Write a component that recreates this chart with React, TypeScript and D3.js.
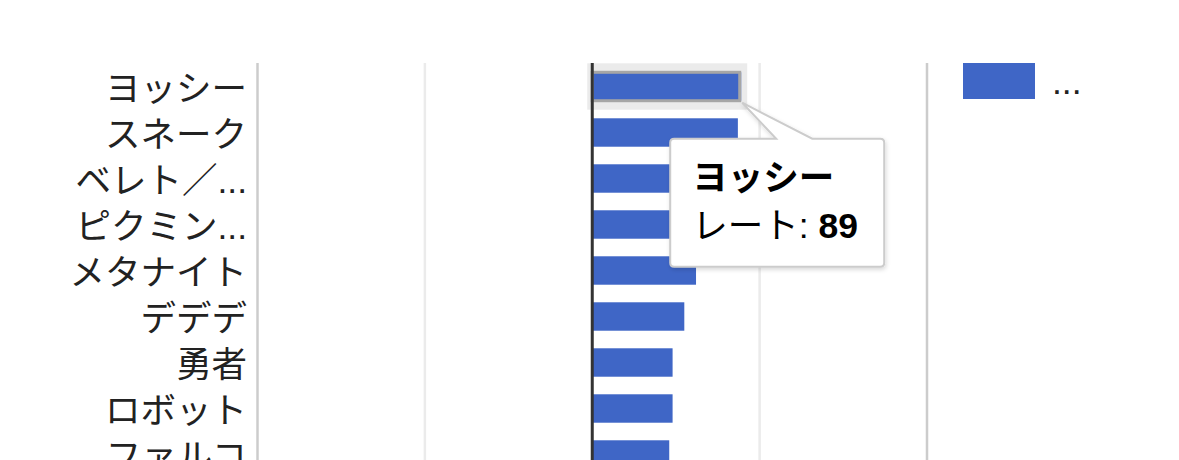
import React from 'react';
import * as d3 from 'd3';

// fighters shown on the vertical axis (full names, truncated for display)
const categories = ['ヨッシー', 'スネーク', 'ベレト／ベレス', 'ピクミン＆オリマー', 'メタナイト', 'デデデ', '勇者', 'ロボット', 'ファルコ'];
const seriesName = 'レート';
const rates = [89, 87, 78, 70, 62, 55, 48, 48, 46];
const gridTicks = [-200, -100, 0, 100, 200];
const hovered = 0;

const W = 1179;
const H = 460;
const FONT = '"Liberation Sans", Arial, "Noto Sans CJK JP", sans-serif';
const FS = 35.5;
const BAR = '#3f66c6';

const truncate = (s: string) => (s.length > 5 ? s.slice(0, 4) + '...' : s);

const App: React.FC = () => {
  const x = d3.scaleLinear().domain([-200, 200]).range([257.5, 927]);
  const y = d3
    .scaleBand<string>()
    .domain(categories)
    .range([63.5, 63.5 + 46 * categories.length])
    .paddingInner(0.382)
    .paddingOuter(0.191);

  const bw = y.bandwidth();

  // hovered bar + tooltip geometry
  const hx0 = x(0);
  const hx1 = x(rates[hovered]);
  const hy0 = y(categories[hovered]) as number;
  const hy1 = hy0 + bw;
  const apexX = hx1 + 1;
  const apexY = hy1 + 2;
  const boxL = apexX - 72;
  const boxT = apexY + 36;
  const boxR = boxL + 214;
  const boxB = boxT + 128;
  const r = 4;
  const tipPath = [
    `M${boxL + r},${boxT}`,
    `L${apexX + 34},${boxT}`,
    `L${apexX},${apexY}`,
    `L${apexX + 70},${boxT}`,
    `L${boxR - r},${boxT}`,
    `Q${boxR},${boxT} ${boxR},${boxT + r}`,
    `L${boxR},${boxB - r}`,
    `Q${boxR},${boxB} ${boxR - r},${boxB}`,
    `L${boxL + r},${boxB}`,
    `Q${boxL},${boxB} ${boxL},${boxB - r}`,
    `L${boxL},${boxT + r}`,
    `Q${boxL},${boxT} ${boxL + r},${boxT}`,
    'Z',
  ].join(' ');

  return (
    <div style={{ position: 'absolute', left: 0, top: 0 }}>
      <svg width={W} height={H} style={{ display: 'block', fontFamily: FONT }}>
        <defs>
          <filter id="tipShadow" x="-10%" y="-10%" width="130%" height="130%">
            <feDropShadow dx="1" dy="2" stdDeviation="2" floodColor="#000" floodOpacity="0.15" />
          </filter>
        </defs>
        <rect width={W} height={H} fill="#fff" />

        {/* gridlines */}
        {gridTicks.map((t, i) => (
          <line
            key={t}
            x1={x(t)}
            x2={x(t)}
            y1={63}
            y2={H + 40}
            stroke={i === 0 || i === gridTicks.length - 1 ? '#cccccc' : '#ebebeb'}
            strokeWidth={2.5}
          />
        ))}

        {/* hover halo */}
        <rect x={hx0 - 5} y={hy0 - 9} width={hx1 - hx0 + 11} height={bw + 18} fill="#000" fillOpacity={0.08} />

        {/* bars */}
        {categories.map((c, i) => (
          <rect key={c} x={x(0)} y={y(c)} width={x(rates[i]) - x(0)} height={bw} fill={BAR} />
        ))}
        <rect x={hx0} y={hy0} width={hx1 - hx0 - 1.5} height={bw} fill="none" stroke="#a6a6a6" strokeWidth={3} />

        {/* baseline */}
        <line x1={x(0)} x2={x(0)} y1={63} y2={H + 40} stroke="#333333" strokeWidth={3} />

        {/* category labels */}
        {categories.map((c) => (
          <text
            key={c}
            x={247}
            y={(y(c) as number) + bw / 2 + 14}
            textAnchor="end"
            fontSize={FS}
            fill="#222222"
          >
            {truncate(c)}
          </text>
        ))}

        {/* legend */}
        <rect x={963} y={63} width={72} height={36} fill={BAR} />
        <text x={1052} y={94} fontSize={FS} fill="#222222">
          ...
        </text>

        {/* tooltip */}
        <path d={tipPath} fill="#fff" stroke="#cccccc" strokeWidth={2} filter="url(#tipShadow)" />
        <text x={boxL + 22} y={boxT + 51} fontSize={FS} fontWeight="bold" fill="#000">
          {categories[hovered]}
        </text>
        <text x={boxL + 22} y={boxT + 99} fontSize={FS} fill="#000">
          {seriesName}: <tspan fontWeight="bold">{rates[hovered]}</tspan>
        </text>
      </svg>
    </div>
  );
};

export default App;
